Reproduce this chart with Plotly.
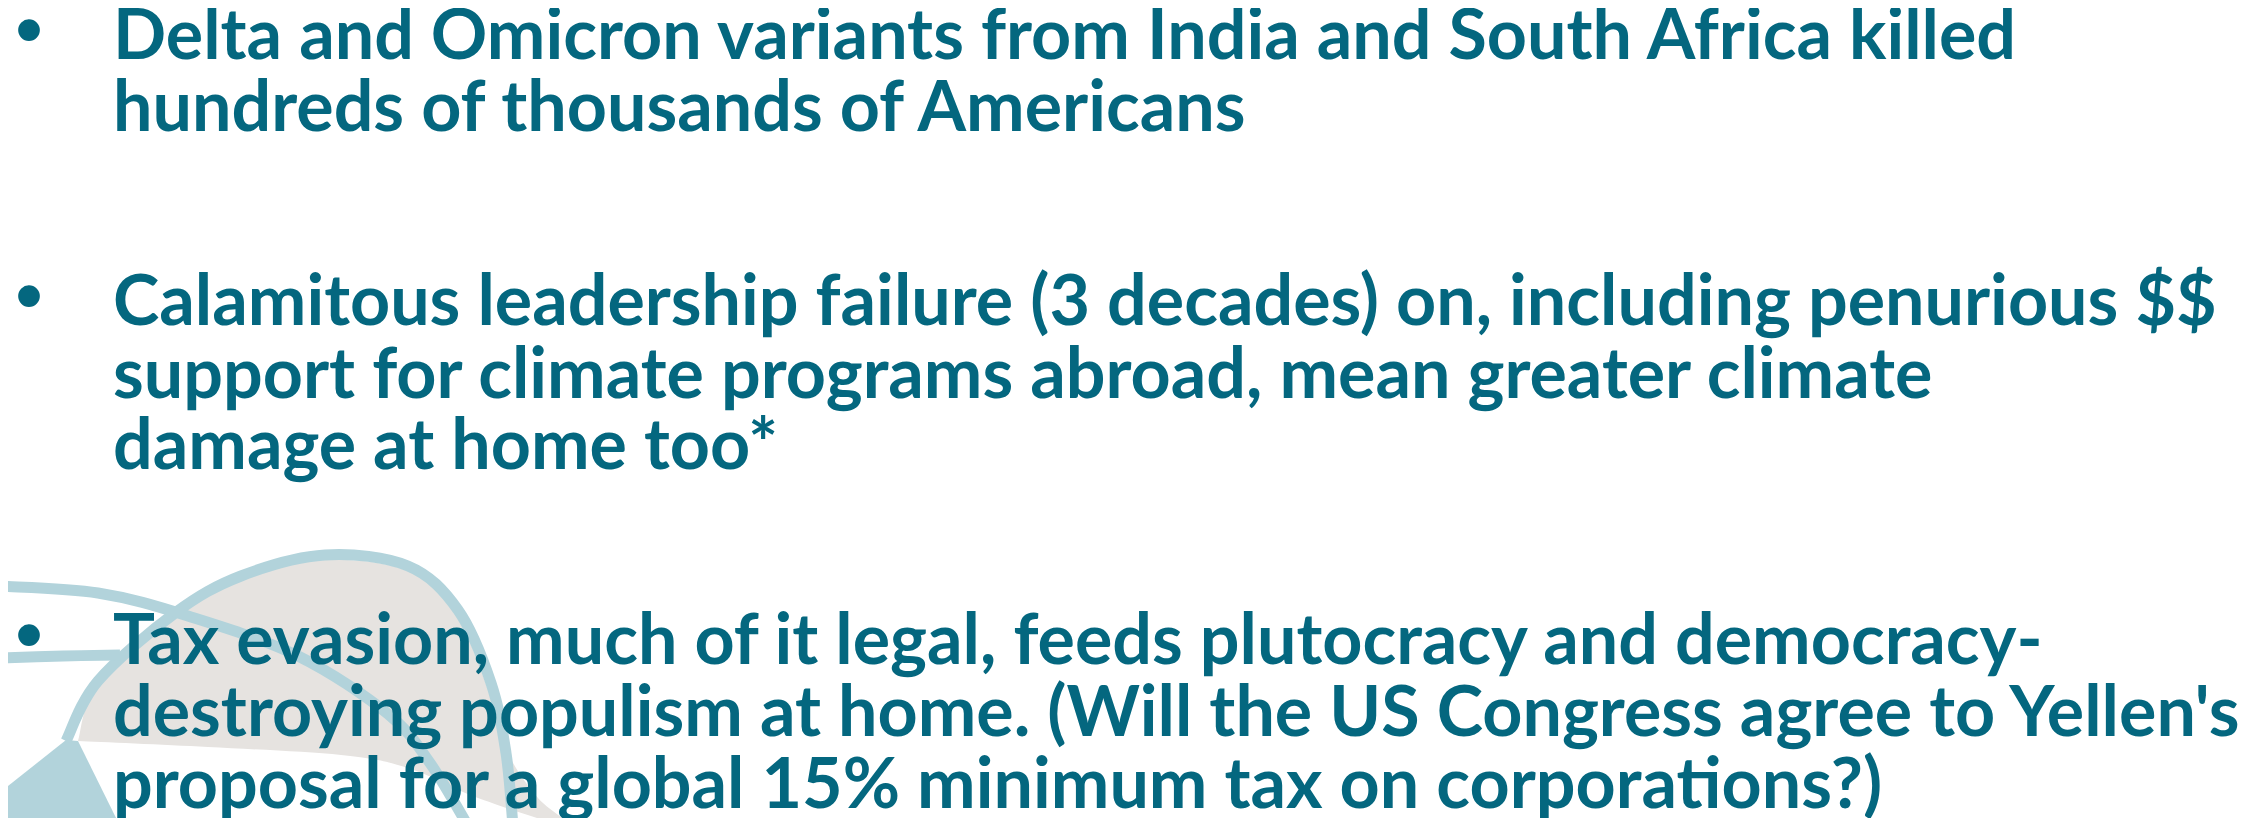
import plotly.graph_objects as go

W, H = 2267, 818

# slide text, one list per bullet, one string per rendered line
BULLET_LINES = [
    ["Delta and Omicron variants from India and South Africa killed",
     "hundreds of thousands of Americans"],
    ["Calamitous leadership failure (3 decades) on, including penurious $$",
     "support for climate programs abroad, mean greater climate",
     "damage at home too*"],
    ["Tax evasion, much of it legal, feeds plutocracy and democracy-",
     "destroying populism at home. (Will the US Congress agree to Yellen's",
     "proposal for a global 15% minimum tax on corporations?)"],
]
# baseline of every line, in pixels from the top
BASELINES = [[58, 130], [324, 397, 468], [663, 735, 807]]

TEXT_COLOR = "#04677f"
ARC_COLOR = "#b2d3db"
LAND_COLOR = "#e6e3e0"
FONT = "Lato"
SIZE = 70
BULLET_SIZE = 80
TEXT_X = 103
BULLET_X = 21
TEXT_SHIFT = 0.54 * SIZE - 4      # box middle above the baseline
BULLET_SHIFT = 26 + 0.17 * BULLET_SIZE - 3

# globe decoration in the lower-left corner (pixel coords)
OUTER_ARC = [(58, 733), (90, 673), (167, 605), (233, 568), (317, 547), (400, 558),
             (450, 602), (483, 675), (498, 745), (505, 818)]
UPPER_ARC = [(-10, 578), (90, 585), (180, 608), (290, 648), (380, 706), (422, 755), (460, 818)]
EQUATOR = [(-10, 650), (55, 648), (112, 647)]
LAND = [(70, 733), (90, 676), (167, 609), (233, 572), (317, 552), (400, 563),
        (447, 606), (478, 676), (500, 745), (530, 790), (560, 818),
        (470, 790), (400, 760), (333, 747), (200, 739), (70, 733)]
WEDGE = [(-5, 782), (58, 732), (70, 733), (112, 818), (-5, 818)]


def smooth_path(pts, closed=False):
    # Catmull-Rom through the points, written as cubic beziers
    p = list(pts)
    d = f"M {p[0][0]},{p[0][1]}"
    n = len(p)
    for i in range(n - 1):
        p0 = p[i - 1] if i > 0 else p[i]
        p1, p2 = p[i], p[i + 1]
        p3 = p[i + 2] if i + 2 < n else p2
        c1 = (p1[0] + (p2[0] - p0[0]) / 6, p1[1] + (p2[1] - p0[1]) / 6)
        c2 = (p2[0] - (p3[0] - p1[0]) / 6, p2[1] - (p3[1] - p1[1]) / 6)
        d += f" C {c1[0]:.1f},{c1[1]:.1f} {c2[0]:.1f},{c2[1]:.1f} {p2[0]},{p2[1]}"
    if closed:
        d += " Z"
    return d


def poly_path(pts):
    return "M " + " L ".join(f"{x},{y}" for x, y in pts) + " Z"


fig = go.Figure()
fig.add_trace(go.Scatter(x=[0, W], y=[0, H], mode="markers", marker=dict(opacity=0),
                         hoverinfo="skip", showlegend=False))

shapes = [
    dict(type="path", path=smooth_path(LAND, closed=True), fillcolor=LAND_COLOR,
         line=dict(width=0), layer="below"),
    dict(type="path", path=poly_path(WEDGE), fillcolor=ARC_COLOR,
         line=dict(width=0), layer="below"),
    dict(type="path", path=smooth_path(OUTER_ARC), line=dict(color=ARC_COLOR, width=11), layer="below"),
    dict(type="path", path=smooth_path(UPPER_ARC), line=dict(color=ARC_COLOR, width=11), layer="below"),
    dict(type="path", path=smooth_path(EQUATOR), line=dict(color=ARC_COLOR, width=11), layer="below"),
]
for s in shapes:
    s.update(xref="x", yref="y")

annotations = []
for lines, bases in zip(BULLET_LINES, BASELINES):
    annotations.append(dict(
        x=BULLET_X, y=bases[0] - BULLET_SHIFT, text="•", showarrow=False,
        xanchor="center", yanchor="middle", xref="x", yref="y",
        font=dict(family="Liberation Sans", size=BULLET_SIZE, color=TEXT_COLOR),
    ))
    for line, base in zip(lines, bases):
        annotations.append(dict(
            x=TEXT_X, y=base - TEXT_SHIFT, text=line, showarrow=False,
            xanchor="left", yanchor="middle", xref="x", yref="y",
            font=dict(family=FONT, size=SIZE, color=TEXT_COLOR, weight="bold"),
        ))

fig.update_layout(
    width=W, height=H,
    margin=dict(l=0, r=0, t=0, b=0),
    paper_bgcolor="white", plot_bgcolor="white",
    xaxis=dict(range=[0, W], visible=False, fixedrange=True),
    yaxis=dict(range=[H, 0], visible=False, fixedrange=True),
    shapes=shapes, annotations=annotations,
    showlegend=False,
)

fig.write_html("out.html", config={"displayModeBar": False})
